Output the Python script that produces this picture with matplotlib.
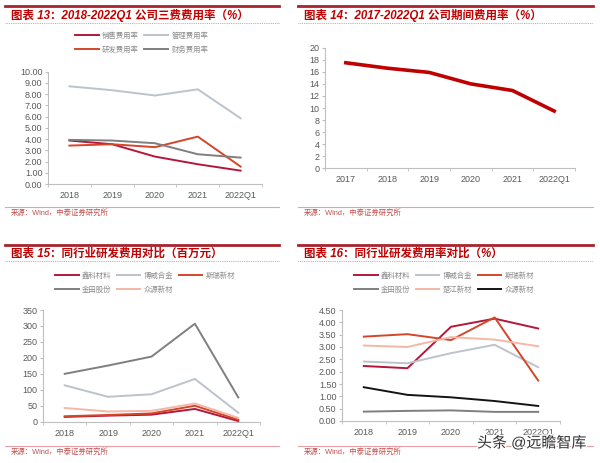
import matplotlib
matplotlib.use("Agg")
import matplotlib.pyplot as plt
import matplotlib.patheffects as pe
from matplotlib.lines import Line2D

plt.rcParams["font.family"] = ["Liberation Sans", "Noto Sans CJK SC", "DejaVu Sans"]
plt.rcParams["axes.unicode_minus"] = False

# ---- data ----
years5 = ["2018", "2019", "2020", "2021", "2022Q1"]
years6 = ["2017", "2018", "2019", "2020", "2021", "2022Q1"]

# 图表13 三费费用率 (%)
sales_rate = [3.87, 3.54, 2.44, 1.76, 1.19]
admin_rate = [8.70, 8.35, 7.88, 8.43, 5.85]
rd_rate = [3.42, 3.54, 3.28, 4.22, 1.55]
fin_rate = [3.93, 3.87, 3.63, 2.65, 2.35]

# 图表14 期间费用率 (%)
period_rate = [17.5, 16.6, 15.9, 14.0, 12.9, 9.5]

# 图表15 同行业研发费用 (百万元)
rd_xinke = [15, 19, 22, 40, 2]
rd_bowei = [114, 78, 86, 134, 28]
rd_sirui = [17, 21, 26, 50, 6]
rd_jintian = [150, 176, 204, 307, 76]
rd_zhongyuan = [43, 32, 34, 57, 12]

# 图表16 同行业研发费用率 (%)
rr_xinke = [2.23, 2.14, 3.82, 4.15, 3.75]
rr_bowei = [2.41, 2.34, 2.75, 3.09, 2.18]
rr_sirui = [3.42, 3.52, 3.28, 4.20, 1.64]
rr_jintian = [0.38, 0.41, 0.43, 0.37, 0.37]
rr_chujiang = [3.06, 3.00, 3.40, 3.30, 3.03]
rr_zhongyuan = [1.37, 1.06, 0.96, 0.81, 0.61]

# ---- colours ----
CRIMSON = "#B5173A"
ORANGE = "#D4462A"
LGRAY = "#BDC3CB"
GRAY = "#7F7F7F"
SALMON = "#F5B7A6"
BLACK = "#141414"
RED = "#C00000"
HEAD = "#A8232D"
TITLE = "#C00000"
TICK = "#595959"
SPINE = "#BFBFBF"

W, H = 600, 463
fig = plt.figure(figsize=(6.0, 4.63), dpi=100)


def fx(px):
    return px / W


def fy(py):
    return 1 - py / H


def panel_frame(x0, x1, y_head, y_dot, y_src, title):
    fig.add_artist(Line2D([fx(x0), fx(x1)], [fy(y_head)] * 2, color=HEAD, lw=2.0))
    fig.add_artist(Line2D([fx(x0), fx(x1)], [fy(y_dot)] * 2, color="#9A9A9A",
                          lw=0.6, ls=(0, (1, 1.2))))
    fig.add_artist(Line2D([fx(x0), fx(x1)], [fy(y_src)] * 2, color="#E8A0A8", lw=0.8))
    fig.text(fx(x0 + 6), fy((y_head + y_dot) / 2 + 1), title, fontsize=8.3,
             fontweight="bold", style="italic", color=TITLE, va="center", ha="left")
    fig.text(fx(x0 + 6), fy(y_src + 6), "来源：Wind，中泰证券研究所", fontsize=5.3,
             color="#C0504D", va="center", ha="left")


def make_ax(l, r, b, t, cats, ymax, ystep, fmt):
    ax = fig.add_axes([fx(l), fy(b), fx(r - l), (b - t) / H])
    for s in ("top", "right"):
        ax.spines[s].set_visible(False)
    for s in ("left", "bottom"):
        ax.spines[s].set_color(SPINE)
        ax.spines[s].set_linewidth(0.8)
    n = len(cats)
    ax.set_xlim(-0.5, n - 0.5)
    ax.set_ylim(0, ymax)
    ax.set_xticks(range(n))
    ax.set_xticklabels(cats)
    ax.set_xticks([i + 0.5 for i in range(-1, n)], minor=True)
    ticks = [i * ystep for i in range(int(round(ymax / ystep)) + 1)]
    ax.set_yticks(ticks)
    ax.set_yticklabels([fmt.format(v) for v in ticks])
    ax.tick_params(axis="x", which="major", length=0, pad=5, labelsize=6.5, labelcolor=TICK)
    ax.tick_params(axis="x", which="minor", length=2, color=SPINE)
    ax.tick_params(axis="y", length=2, color=SPINE, pad=2, labelsize=6.5, labelcolor=TICK)
    return ax


def add_legend(ax, handles, labels, ncol, x, y):
    leg = ax.legend(handles, labels, ncol=ncol, loc="upper left",
                    bbox_to_anchor=(fx(x), fy(y)), bbox_transform=fig.transFigure,
                    frameon=False, fontsize=5.3, handlelength=3.2, handletextpad=0.5,
                    columnspacing=0.7, labelspacing=0.9, borderaxespad=0)
    for t in leg.get_texts():
        t.set_color("#8C8C8C")


# ---- 图表13 ----
panel_frame(5, 279, 6, 22.5, 207, "图表 13：2018-2022Q1 公司三费费用率（%）")
ax = make_ax(48, 262, 184, 71.7, years5, 10, 1, "{:.2f}")
x = range(len(years5))
l1, = ax.plot(x, sales_rate, color=CRIMSON, lw=1.4)
l2, = ax.plot(x, admin_rate, color=LGRAY, lw=1.4)
l3, = ax.plot(x, rd_rate, color=ORANGE, lw=1.4)
l4, = ax.plot(x, fin_rate, color=GRAY, lw=1.4)
add_legend(ax, [l1, l3, l2, l4], ["销售费用率", "研发费用率", "管理费用率", "财务费用率"],
           2, 72, 29)

# ---- 图表14 ----
panel_frame(298, 593, 6, 22.5, 207, "图表 14：2017-2022Q1 公司期间费用率（%）")
ax = make_ax(325, 575, 168.3, 47.7, years6, 20, 2, "{:.0f}")
ax.plot(range(len(years6)), period_rate, color=RED, lw=2.6)

# ---- 图表15 ----
panel_frame(5, 279, 245, 261, 446, "图表 15：同行业研发费用对比（百万元）")
ax = make_ax(43, 260, 421.7, 310, years5, 350, 50, "{:.0f}")
h1, = ax.plot(x, rd_xinke, color=CRIMSON, lw=1.4)
h2, = ax.plot(x, rd_bowei, color=LGRAY, lw=1.4)
h3, = ax.plot(x, rd_sirui, color=ORANGE, lw=1.4)
h4, = ax.plot(x, rd_jintian, color=GRAY, lw=1.4)
h5, = ax.plot(x, rd_zhongyuan, color=SALMON, lw=1.4)
add_legend(ax, [h1, h4, h2, h5, h3], ["鑫科材料", "金田股份", "博威合金", "众源新材", "斯瑞新材"],
           3, 52, 269)

# ---- 图表16 ----
panel_frame(298, 593, 245, 261, 446, "图表 16：同行业研发费用率对比（%）")
ax = make_ax(342, 560, 421, 310, years5, 4.5, 0.5, "{:.2f}")
g1, = ax.plot(x, rr_xinke, color=CRIMSON, lw=1.4)
g2, = ax.plot(x, rr_bowei, color=LGRAY, lw=1.4)
g3, = ax.plot(x, rr_sirui, color=ORANGE, lw=1.4)
g4, = ax.plot(x, rr_jintian, color=GRAY, lw=1.4)
g5, = ax.plot(x, rr_chujiang, color=SALMON, lw=1.4)
g6, = ax.plot(x, rr_zhongyuan, color=BLACK, lw=1.4)
add_legend(ax, [g1, g4, g2, g5, g3, g6],
           ["鑫科材料", "金田股份", "博威合金", "楚江新材", "斯瑞新材", "众源新材"],
           3, 351, 269)

# watermark
fig.text(fx(477), fy(443), "头条 @远瞻智库", fontsize=10.8, color="#333333",
         va="center", ha="left",
         path_effects=[pe.withStroke(linewidth=2, foreground="white")])

fig.savefig("out.png", dpi=100)
